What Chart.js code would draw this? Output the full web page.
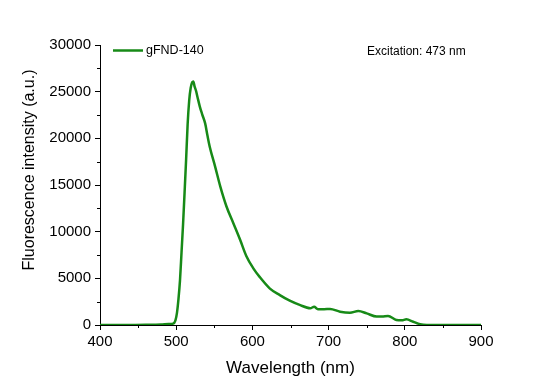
<!DOCTYPE html>
<html>
<head>
<meta charset="utf-8">
<script src="https://cdn.jsdelivr.net/npm/chart.js@4/dist/chart.umd.min.js"></script>
<style>
  html, body { margin: 0; padding: 0; background: #fff; }
  #wrap { width: 559px; height: 391px; }
</style>
</head>
<body>
<div id="wrap"><canvas id="spectrum" width="559" height="391"></canvas></div>
<script>
// data
const seriesLabel = "gFND-140";
const wavelengths = [400, 420, 440, 460, 480, 490, 496, 499, 501, 503, 505, 507, 509, 511, 513, 515, 517, 519, 521, 522.5, 524, 526, 528, 531, 534, 538, 541, 544, 551, 558, 566, 575, 584, 592, 601, 610, 623, 636, 649, 662, 676, 681, 686, 694, 702, 715, 728, 739, 750, 763, 770, 778, 789, 796, 802, 811, 820, 829, 850, 875, 900];
const intensities = [0, 0, 10, 20, 50, 100, 150, 500, 1300, 2800, 4800, 7800, 10800, 14200, 17700, 21500, 24000, 25400, 26000, 26100, 25600, 25100, 24400, 23400, 22600, 21600, 20300, 19100, 17000, 14800, 12700, 10900, 9100, 7400, 6100, 5100, 3900, 3200, 2600, 2150, 1800, 1950, 1700, 1700, 1720, 1430, 1320, 1500, 1250, 900, 900, 960, 540, 500, 610, 350, 80, 0, 0, 0, 0];
const xTicks = [400, 500, 600, 700, 800, 900];
const yTicks = [0, 5000, 10000, 15000, 20000, 25000, 30000];
const annotationText = "Excitation: 473 nm";

const lineColor = "#178a17";
const fontFamily = "'Liberation Sans', Arial, sans-serif";

// minor ticks, legend and side texts
const decorPlugin = {
  id: "decor",
  afterDraw(chart) {
    const ctx = chart.ctx;
    const area = chart.chartArea;
    const xs = chart.scales.x;
    const ys = chart.scales.y;
    ctx.save();
    ctx.strokeStyle = "#000";
    ctx.lineWidth = 1;
    // minor ticks
    for (let i = 0; i < xTicks.length - 1; i++) {
      const px = Math.round(xs.getPixelForValue((xTicks[i] + xTicks[i + 1]) / 2)) + 0.5;
      ctx.beginPath();
      ctx.moveTo(px, area.bottom);
      ctx.lineTo(px, area.bottom + 3);
      ctx.stroke();
    }
    for (let i = 0; i < yTicks.length - 1; i++) {
      const py = Math.round(ys.getPixelForValue((yTicks[i] + yTicks[i + 1]) / 2)) + 0.5;
      ctx.beginPath();
      ctx.moveTo(area.left, py);
      ctx.lineTo(area.left - 3, py);
      ctx.stroke();
    }
    // legend
    ctx.strokeStyle = lineColor;
    ctx.lineWidth = 2.5;
    ctx.beginPath();
    ctx.moveTo(area.left + 13, 50.5);
    ctx.lineTo(area.left + 43, 50.5);
    ctx.stroke();
    ctx.fillStyle = "#000";
    ctx.font = "12.5px " + fontFamily;
    ctx.textBaseline = "middle";
    ctx.textAlign = "left";
    ctx.fillText(seriesLabel, area.left + 46, 50.5);
    ctx.font = "12px " + fontFamily;
    ctx.fillText(annotationText, 367, 52);
    // y title
    ctx.font = "16px " + fontFamily;
    ctx.translate(30, 170);
    ctx.rotate(-Math.PI / 2);
    ctx.textAlign = "center";
    ctx.fillText("Fluorescence intensity (a.u.)", 0, 0);
    ctx.restore();
  }
};

new Chart(document.getElementById("spectrum").getContext("2d"), {
  type: "line",
  data: {
    datasets: [
      {
        label: seriesLabel,
        data: wavelengths.map((w, i) => ({ x: w, y: intensities[i] })),
        borderColor: lineColor,
        borderWidth: 2.5,
        pointRadius: 0,
        fill: false,
        cubicInterpolationMode: "monotone",
      },
    ],
  },
  options: {
    responsive: false,
    animation: false,
    layout: { padding: { left: 0, right: 78, top: 45, bottom: 0 } },
    plugins: { legend: { display: false }, tooltip: { enabled: false } },
    scales: {
      x: {
        type: "linear",
        min: 400,
        max: 900,
        afterFit: (scale) => { scale.height = 66; },
        afterBuildTicks: (scale) => { scale.ticks = xTicks.map((v) => ({ value: v })); },
        ticks: {
          color: "#000",
          font: { family: fontFamily, size: 15 },
          padding: 3,
          maxRotation: 0,
          callback: (v) => String(v),
        },
        grid: { drawOnChartArea: false, tickLength: 5, tickColor: "#000" },
        border: { display: true, color: "#000", width: 1 },
        title: {
          display: true,
          text: "Wavelength (nm)",
          color: "#000",
          font: { family: fontFamily, size: 17 },
          padding: { top: 0, bottom: 12 },
        },
      },
      y: {
        min: 0,
        max: 30000,
        afterFit: (scale) => { scale.width = 100; },
        afterBuildTicks: (scale) => { scale.ticks = yTicks.map((v) => ({ value: v })); },
        ticks: {
          color: "#000",
          font: { family: fontFamily, size: 15 },
          padding: 4,
          callback: (v) => String(v),
        },
        grid: { drawOnChartArea: false, tickLength: 5, tickColor: "#000" },
        border: { display: true, color: "#000", width: 1 },
      },
    },
  },
  plugins: [decorPlugin],
});
</script>
</body>
</html>
